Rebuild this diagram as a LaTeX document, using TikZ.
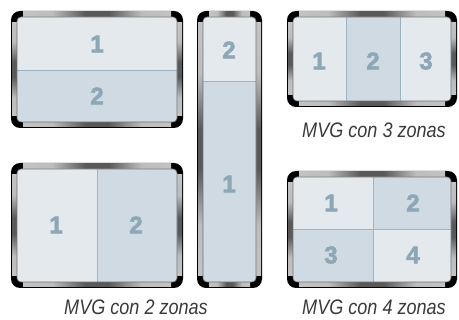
\documentclass[tikz,border=0pt]{standalone}
\usepackage{fontspec}
\setmainfont{Liberation Sans}
\newfontfamily\capfont[FakeStretch=0.86]{Liberation Sans}
\newfontfamily\numfont[FakeBold=2.5]{Liberation Sans Bold}
\definecolor{zonelight}{HTML}{E4E9EE}
\definecolor{zonedark}{HTML}{CFDAE2}
\definecolor{zoneline}{HTML}{9DB3C2}
\definecolor{numblue}{HTML}{8EA7B7}
\definecolor{captxt}{HTML}{3A3A3A}
\pgfdeclarehorizontalshading{metal}{100bp}{color(0bp)=(black!18); color(35bp)=(black!26); color(46bp)=(black!65); color(54bp)=(black!65); color(65bp)=(black!26); color(100bp)=(black!18)}
\begin{document}
\begin{tikzpicture}[x=1pt, y=-1pt,
  num/.style={font=\numfont\fontsize{24}{24}\selectfont, text=numblue},
  caption/.style={font=\capfont\itshape\fontsize{21}{21}\selectfont, text=captxt}]
\useasboundingbox (0,0) rectangle (459,320);
% frame: black rounded body, metal bars on the four sides
\def\mvgframe#1#2#3#4{%
  \fill[black, rounded corners=9] (#1,#2) rectangle (#3,#4);
  \fill[shading=metal] (#1+12,#2+1) rectangle (#3-12,#2+6);
  \fill[shading=metal] (#1+12,#4-6) rectangle (#3-12,#4-1);
  \fill[shading=metal, shading angle=90] (#1+1,#2+12) rectangle (#1+6,#4-12);
  \fill[shading=metal, shading angle=90] (#3-6,#2+12) rectangle (#3-1,#4-12);
}
% screens: outer box, inner box
\foreach \xa/\ya/\xb/\yb in {11/11/183/128, 197/11/262/288, 287/11/457/107,
                            11/163/183/288, 287/171/457/288}{
  \mvgframe{\xa}{\ya}{\xb}{\yb}
  \fill[zonelight, rounded corners=4] (\xa+6,\ya+6) rectangle (\xb-6,\yb-6);
}
% darker zones, clipped to their screen
\foreach \cx/\cy/\cxx/\cyy/\zx/\zy/\zxx/\zyy in {
  17/17/177/122/17/70/177/122,
  203/17/256/282/203/81/256/282,
  293/17/451/101/346/17/400/101,
  17/169/177/282/97/169/177/282,
  293/177/451/282/373/177/451/229,
  293/177/451/282/293/229/373/282}{
  \begin{scope}
  \clip[rounded corners=4] (\cx,\cy) rectangle (\cxx,\cyy);
  \fill[zonedark] (\zx,\zy) rectangle (\zxx,\zyy);
  \end{scope}
}
% dividers
\draw[zoneline, line width=0.8pt] (17,70) -- (177,70);
\draw[zoneline, line width=0.8pt] (203,81) -- (256,81);
\draw[zoneline, line width=0.8pt] (346,17) -- (346,101);
\draw[zoneline, line width=0.8pt] (400,17) -- (400,101);
\draw[zoneline, line width=0.8pt] (97,169) -- (97,282);
\draw[zoneline, line width=0.8pt] (293,229) -- (451,229);
\draw[zoneline, line width=0.8pt] (373,177) -- (373,282);
\foreach \cx/\cy/\cxx/\cyy in {17/17/177/122, 203/17/256/282, 293/17/451/101,
                              17/169/177/282, 293/177/451/282}
  \draw[black!55, line width=0.6pt, rounded corners=4] (\cx,\cy) rectangle (\cxx,\cyy);
% zone numbers
\foreach \n/\x/\y/\t in {a1/97/44/1, a2/97/96/2, b2/229/50/2, b1/229/184/1,
                         c1/319/61/1, c2/373/61/2, c3/426/61/3,
                         d1/56/225/1, d2/136/225/2,
                         e1/331/203/1, e2/413/203/2, e3/331/255/3, e4/413/255/4}
  \node[num] (\n) at (\x,\y) {\t};
% captions
\node[caption] (cap3) at (374,130) {MVG con 3 zonas};
\node[caption] (cap2) at (136,307) {MVG con 2 zonas};
\node[caption] (cap4) at (374,307) {MVG con 4 zonas};
\end{tikzpicture}
\end{document}
